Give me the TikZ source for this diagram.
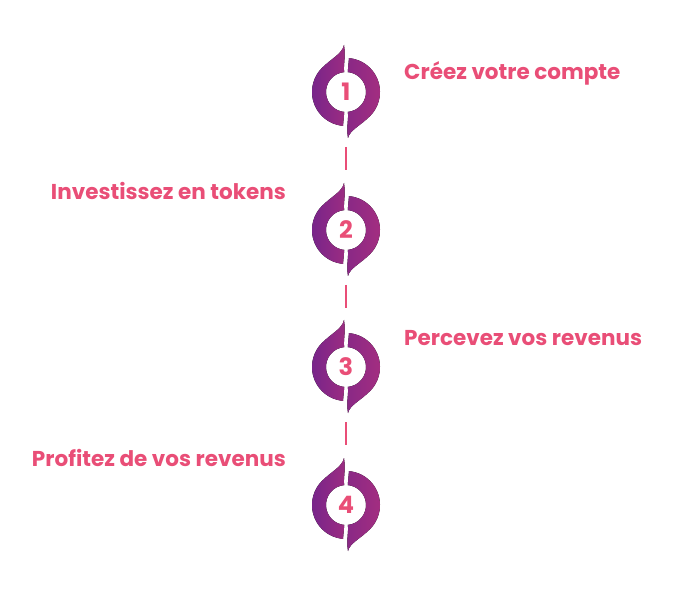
\documentclass[tikz,border=0pt]{standalone}
\usepackage{fontspec}
\setmainfont{Poppins}
\definecolor{pk}{HTML}{E94E77}
\definecolor{pl}{HTML}{76248A}
\definecolor{pr}{HTML}{A42E80}
\begin{document}
\begin{tikzpicture}[x=1pt,y=-1pt,
  lbl/.style={text=pk,font=\fontsize{21.5}{24}\selectfont\bfseries,inner sep=0pt},
  num/.style={text=pk,font=\fontsize{24}{26}\selectfont\bfseries,inner sep=0pt},
  link/.style={draw=pk,line width=2pt}]
\useasboundingbox (0,0) rectangle (696,601);
\newcommand{\stepicon}[3]{%
  \begin{scope}[shift={(#1,#2)}]
  \fill[left color=pl,right color=pr!85!pl] (95:34) arc[start angle=95,end angle=225,radius=34]
     .. controls (-14,-34) and (-4,-38) .. (-2,-47)
     .. controls (0,-35) and (-3,-26) .. (265:20)
     arc[start angle=265,end angle=95,radius=20] -- cycle;
  \fill[left color=pl!60!pr,right color=pr] (275:34) arc[start angle=275,end angle=405,radius=34]
     .. controls (14,34) and (4,38) .. (2,46)
     .. controls (0,35) and (3,26) .. (85:20)
     arc[start angle=85,end angle=-85,radius=20] -- cycle;
  \end{scope}
  \node[num] (n#3) at (#1,#2) {#3};}
\stepicon{346}{92}{1}
\stepicon{346}{230}{2}
\stepicon{346}{367}{3}
\stepicon{346}{505}{4}
\coordinate (a1) at (346,147); \coordinate (b1) at (346,170);
\coordinate (a2) at (346,285); \coordinate (b2) at (346,308);
\coordinate (a3) at (346,422); \coordinate (b3) at (346,445);
\draw[link] (a1) -- (b1); \draw[link] (a2) -- (b2); \draw[link] (a3) -- (b3);
\node[lbl,anchor=west] (t1) at (404,73) {Créez votre compte};
\node[lbl,anchor=east] (t2) at (286,191) {Investissez en tokens};
\node[lbl,anchor=west] (t3) at (404,338) {Percevez vos revenus};
\node[lbl,anchor=east] (t4) at (286,458) {Profitez de vos revenus};
\end{tikzpicture}
\end{document}
